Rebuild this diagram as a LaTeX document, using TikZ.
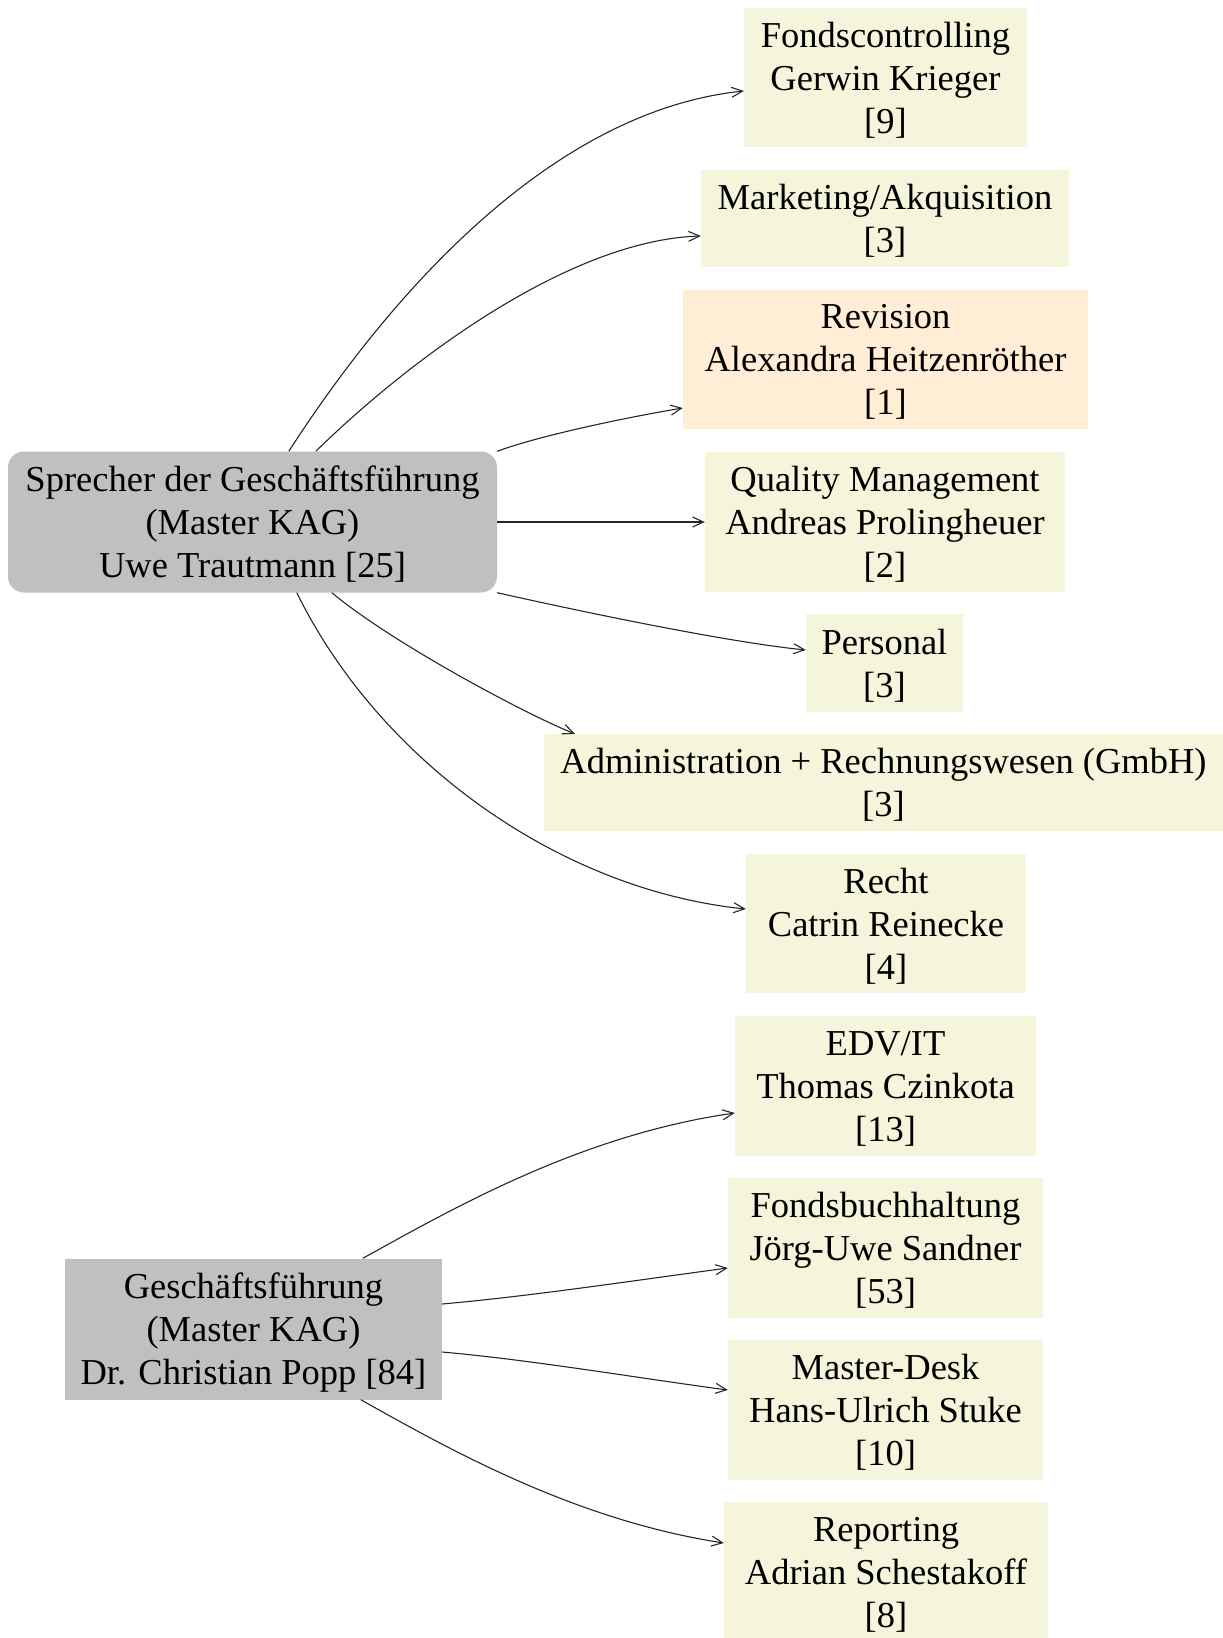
\documentclass[tikz,border=0pt]{standalone}
\usepackage{fontspec}
\setmainfont{Liberation Serif}
\usetikzlibrary{arrows.meta}
\definecolor{unitfill}{HTML}{F5F5DC}
\definecolor{auditfill}{HTML}{FFEED5}
\definecolor{headfill}{HTML}{C0C0C0}
\begin{document}
\begin{tikzpicture}[x=1pt,y=-1pt,
  every node/.style={font=\fontsize{36.5}{43}\selectfont, align=center,
    inner sep=0pt, text depth=-9pt},
  unit/.style={fill=unitfill, minimum height=140pt},
  unitlow/.style={fill=unitfill, minimum height=97pt},
  audit/.style={fill=auditfill, minimum height=139pt},
  head/.style={fill=headfill, minimum height=141pt},
  link/.style={draw=black!85, line width=1.1pt,
    -{Straight Barb[length=11pt,width=10pt,line width=1.1pt]}}]
\useasboundingbox (0,0) rectangle (1223,1638);

% heads
\node[head, rounded corners=16pt, minimum width=489pt] (sp) at (252.5,522)
  {Sprecher der Geschäftsführung\\(Master KAG)\\Uwe Trautmann [25]};
\node[head, minimum width=377pt] (gf) at (253.5,1329)
  {Geschäftsführung\\(Master KAG)\\Dr. Christian Popp [84]};

% departments
\node[unit, minimum width=283pt, minimum height=139pt] (fc) at (885.5,77.5)
  {Fondscontrolling\\Gerwin Krieger\\{}[9]};
\node[unitlow, minimum width=368pt] (mk) at (885,218.5)
  {Marketing/Akquisition\\{}[3]};
\node[audit, minimum width=405pt] (rv) at (885.5,359.5)
  {Revision\\Alexandra Heitzenröther\\{}[1]};
\node[unit, minimum width=360pt] (qm) at (885,522)
  {Quality Management\\Andreas Prolingheuer\\{}[2]};
\node[unitlow, minimum width=157pt, minimum height=98pt] (ps) at (884.5,663)
  {Personal\\{}[3]};
\node[unitlow, minimum width=679pt] (ad) at (883.5,782.5)
  {Administration + Rechnungswesen (GmbH)\\{}[3]};
\node[unit, minimum width=280pt, minimum height=139pt] (re) at (886,923.5)
  {Recht\\Catrin Reinecke\\{}[4]};
\node[unit, minimum width=301pt] (edv) at (885.5,1086)
  {EDV/IT\\Thomas Czinkota\\{}[13]};
\node[unit, minimum width=315pt] (fb) at (885.5,1248)
  {Fondsbuchhaltung\\Jörg-Uwe Sandner\\{}[53]};
\node[unit, minimum width=315pt] (md) at (885.5,1410)
  {Master-Desk\\Hans-Ulrich Stuke\\{}[10]};
\node[unit, minimum width=324pt] (rp) at (886,1572)
  {Reporting\\Adrian Schestakoff\\{}[8]};

% reporting lines of the spokesman
\draw[link] ([xshift=281pt]sp.north west) .. controls +(111,-172) and +(-184,19) .. ([yshift=-13.5pt]fc.west);
\draw[link] ([xshift=308pt]sp.north west) .. controls +(94,-92) and +(-131,4) .. ([yshift=-17.5pt]mk.west);
\draw[link] (sp.north east) .. controls +(40,-15) and +(-60,10) .. ([yshift=-48.5pt]rv.west);
\draw[link] (sp.east) -- (qm.west);
\draw[link] (sp.south east) .. controls +(80,18) and +(-80,-8) .. ([yshift=13pt]ps.west);
\draw[link] ([xshift=324pt]sp.south west) .. controls +(60,50) and +(-50,-20) .. ([xshift=31pt]ad.north west);
\draw[link] ([xshift=289pt]sp.south west) .. controls +(83,169) and +(-186,-19) .. ([yshift=14.5pt]re.west);

% reporting lines of the management
\draw[link] ([xshift=298pt]gf.north west) .. controls +(87,-48) and +(-155,22) .. ([yshift=-27pt]edv.west);
\draw[link] ([yshift=25pt]gf.east) .. controls +(90,-8) and +(-90,12) .. ([yshift=-20pt]fb.west);
\draw[link] ([yshift=-23pt]gf.east) .. controls +(90,8) and +(-90,-12) .. ([yshift=20pt]md.west);
\draw[link] ([xshift=296pt]gf.south west) .. controls +(89,50) and +(-149,-23) .. ([yshift=29pt]rp.west);
\end{tikzpicture}
\end{document}
